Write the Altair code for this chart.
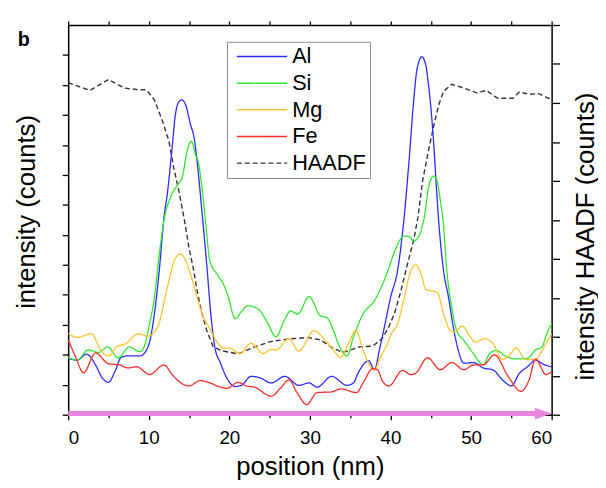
import altair as alt
import pandas as pd

FONT = "Liberation Sans"

# ---------------- data (x in nm, y in axis units) ----------------
al_x = [0, 1.1, 2.3, 3.4, 4.2, 5.0, 5.8, 6.6, 7.4, 8.9, 9.9, 10.7, 11.3, 11.9, 12.3, 12.9, 13.3, 13.8, 14.1,
        14.6, 15.2, 15.6, 16.0, 16.4, 16.8, 17.2, 17.7, 18.2, 18.9, 19.7, 20.7, 21.5, 22.7, 23.9, 25.2, 26.9,
        28.6, 29.9, 30.9, 32.7, 34.6, 35.4, 36.0, 37.3, 38.0, 38.7, 39.3, 40.0, 40.9, 41.7, 42.3, 42.9, 43.3,
        43.9, 44.4, 44.7, 45.1, 45.4, 45.7, 46.0, 46.6, 47.2, 47.8, 48.4, 49.1, 50.3, 51.5, 52.7, 53.9, 55.0,
        56.0, 57.0, 58.0, 59.0, 60.0]
al_y = [0.94, 0.91, 1.01, 0.83, 0.62, 0.54, 0.72, 0.96, 0.98, 0.98, 1.13, 1.68, 2.40, 3.30, 3.68, 4.45, 5.00, 5.23, 5.25,
        5.16, 4.83, 4.64, 4.23, 3.68, 3.10, 2.50, 1.68, 1.13, 0.86, 0.61, 0.47, 0.49, 0.64, 0.61, 0.53, 0.64,
        0.49, 0.53, 0.46, 0.64, 0.49, 0.53, 0.70, 0.90, 0.75, 1.13, 1.50, 1.95, 2.42, 3.30, 4.23, 5.27, 5.77,
        5.97, 5.82, 5.52, 4.99, 4.45, 3.79, 3.20, 2.39, 1.96, 1.46, 1.08, 0.86, 0.87, 0.78, 0.75, 0.58, 0.48,
        0.69, 0.80, 0.91, 0.84, 0.80]

si_x = [0, 1.1, 2.5, 3.8, 4.9, 6.2, 7.6, 8.9, 9.5, 10.1, 10.7, 11.3, 11.9, 12.7, 13.6, 14.2, 14.6, 15.0, 15.3,
        15.8, 16.2, 16.6, 17.0, 17.6, 18.5, 19.3, 19.9, 20.7, 21.5, 22.3, 23.6, 24.6, 25.8, 26.8, 27.6, 28.5,
        29.9, 31.3, 32.1, 32.9, 33.7, 34.6, 35.4, 36.6, 38.0, 39.0, 39.8, 40.5, 41.7, 42.3, 42.9, 43.6, 44.2,
        44.8, 45.4, 45.8, 46.2, 46.5, 47.0, 47.6, 48.2, 49.1, 50.3, 51.5, 52.3, 53.1, 54.4, 55.6, 57.0, 58.0,
        58.8, 59.4, 60.0]
si_y = [0.96, 0.91, 1.08, 1.04, 1.13, 0.95, 1.13, 1.05, 1.16, 1.52, 1.95, 2.67, 3.25, 3.63, 3.84, 3.98, 4.29, 4.51, 4.56,
        4.34, 4.18, 3.79, 3.28, 2.56, 2.34, 2.17, 1.95, 1.60, 1.72, 1.82, 1.76, 1.57, 1.30, 1.57, 1.73, 1.68,
        1.97, 1.65, 1.62, 1.41, 1.13, 0.98, 1.30, 1.68, 1.90, 2.17, 2.45, 2.72, 2.98, 2.97, 2.90, 3.00, 3.30,
        3.84, 3.98, 3.89, 3.56, 3.28, 2.39, 1.79, 1.41, 1.24, 1.02, 0.83, 1.02, 1.07, 0.97, 0.93, 0.94, 1.08,
        1.13, 1.35, 1.52]

mg_x = [0, 1.1, 2.9, 4.0, 5.0, 6.0, 7.2, 8.7, 9.9, 11.1, 12.3, 13.3, 14.0, 14.6, 15.2, 16.0, 16.8, 17.6, 18.5,
        19.3, 20.0, 21.3, 22.7, 24.2, 25.2, 25.8, 27.4, 28.6, 30.5, 31.7, 32.9, 33.8, 34.8, 35.7, 36.6, 37.4,
        38.0, 38.8, 39.5, 40.1, 40.9, 41.7, 42.5, 43.1, 43.8, 44.4, 45.8, 46.6, 47.4, 48.0, 48.9, 49.9, 50.5,
        51.7, 52.7, 53.9, 54.6, 55.6, 56.8, 58.0, 58.6, 59.4, 60.0]
mg_y = [1.36, 1.29, 1.35, 1.08, 0.98, 1.13, 1.19, 1.35, 1.31, 1.46, 2.12, 2.61, 2.68, 2.56, 2.34, 1.95, 1.62, 1.43, 1.21,
        1.11, 1.11, 1.02, 1.19, 1.02, 1.09, 1.08, 1.27, 1.06, 1.40, 1.27, 1.08, 0.96, 1.19, 1.41, 1.08, 0.83,
        0.75, 0.97, 1.15, 1.35, 1.52, 1.95, 2.39, 2.50, 2.34, 2.09, 2.04, 1.68, 1.41, 1.38, 1.48, 1.30, 1.21,
        1.27, 1.19, 0.92, 0.97, 1.11, 0.92, 0.92, 1.02, 1.21, 1.35]

fe_x = [0, 0.9, 1.9, 3.4, 5.0, 6.4, 7.4, 8.5, 10.1, 11.9, 12.9, 14.0, 15.0, 16.4, 17.4, 18.5, 19.7, 21.1, 22.1,
        23.1, 25.2, 26.4, 27.4, 28.4, 29.6, 30.9, 32.7, 33.8, 35.8, 36.6, 37.8, 38.4, 39.0, 39.8, 41.5, 42.5,
        43.1, 44.6, 46.2, 47.6, 49.1, 50.3, 51.5, 52.9, 54.6, 56.2, 57.2, 58.0, 59.3, 60.0]
fe_y = [1.25, 0.97, 0.70, 1.03, 0.85, 0.83, 0.78, 0.80, 0.67, 0.83, 0.67, 0.53, 0.48, 0.57, 0.54, 0.48, 0.44, 0.54, 0.48,
        0.46, 0.31, 0.45, 0.58, 0.37, 0.17, 0.37, 0.38, 0.43, 0.37, 0.53, 0.77, 0.75, 0.56, 0.48, 0.74, 0.67,
        0.69, 0.95, 0.75, 0.87, 0.75, 0.83, 0.83, 1.00, 0.64, 0.39, 0.58, 0.93, 0.67, 0.72]

haadf_x = [0, 2.7, 5.0, 7.0, 8.7, 9.7, 10.7, 11.7, 12.5, 13.1, 13.8, 14.4, 15.0, 15.6, 16.0, 16.6, 17.2, 18.0,
           19.1, 21.1, 23.1, 25.2, 27.2, 29.7, 31.3, 32.9, 34.1, 36.2, 37.8, 39.0, 39.8, 40.5, 41.3, 42.1, 42.9,
           43.4, 44.0, 44.8, 45.4, 46.0, 46.6, 47.6, 49.1, 50.7, 51.9, 53.3, 55.2, 56.0, 57.2, 58.4, 59.6, 60.0]
haadf_y = [4.26, 4.16, 4.30, 4.19, 4.17, 4.17, 4.04, 3.77, 3.51, 3.17, 2.84, 2.51, 2.14, 1.84, 1.59, 1.30, 1.08, 0.87,
           0.82, 0.78, 0.87, 0.94, 0.97, 0.99, 0.96, 0.85, 0.80, 0.87, 0.88, 0.98, 1.13, 1.30, 1.59, 1.93, 2.25,
           2.53, 3.01, 3.43, 3.72, 3.98, 4.15, 4.24, 4.19, 4.13, 4.16, 4.06, 4.06, 4.14, 4.11, 4.12, 4.06, 4.07]

series_names = ["Al", "Si", "Mg", "Fe", "HAADF"]
series_colors = ["#2b2bff", "#2ee82e", "#ffc22b", "#ff2b2b", "#333333"]
series_dash = [[1, 0], [1, 0], [1, 0], [1, 0], [5, 3]]

left_ticks = [i * 0.5 for i in range(13)]
right_ticks = [i * 0.5 for i in range(11)]
x_ticks = list(range(0, 61, 5))
arrow_x = [0]
arrow_x2 = [60]
arrow_y = [0.02]

# ---------------- tables ----------------
rows = []
for name, xs, ys in [("Al", al_x, al_y), ("Si", si_x, si_y), ("Mg", mg_x, mg_y), ("Fe", fe_x, fe_y)]:
    for xv, yv in zip(xs, ys):
        rows.append({"series": name, "x": xv, "y": yv})
elem_df = pd.DataFrame(rows)
haadf_df = pd.DataFrame({"series": "HAADF", "x": haadf_x, "y": haadf_y})
arrow_df = pd.DataFrame({"x": arrow_x, "x2": arrow_x2, "y": arrow_y})

x_scale = alt.Scale(domain=[0, 60], nice=False, zero=False)
left_scale = alt.Scale(domain=[0, 6.5], nice=False, zero=False)
right_scale = alt.Scale(domain=[0, 5], nice=False, zero=False)

legend = alt.Legend(
    title=None, orient="none", legendX=161, legendY=17,
    symbolType="M -1 0 L 9.2 0", symbolSize=100, symbolStrokeWidth=1.5,
    labelFont=FONT, labelFontSize=22, labelColor="black", labelOffset=40,
    padding=4, rowPadding=5, strokeColor="#8a8a8a", fillColor="white",
)
color = alt.Color("series:N", scale=alt.Scale(domain=series_names, range=series_colors), legend=legend)
dash = alt.StrokeDash("series:N", scale=alt.Scale(domain=series_names, range=series_dash), legend=legend)

elem_lines = alt.Chart(elem_df).mark_line(strokeWidth=1.3, interpolate="monotone").encode(
    x=alt.X("x:Q", scale=x_scale, axis=alt.Axis(
        orient="bottom", values=x_ticks,
        tickSize={"condition": {"test": "datum.value % 10 === 0", "value": 5}, "value": 3},
        labelExpr="datum.value % 10 === 0 ? datum.label : ''",
        labelFontSize=19, labelPadding=9, title="position (nm)", titleFontSize=26,
        titleY=61, titleBaseline="alphabetic")),
    y=alt.Y("y:Q", scale=left_scale, axis=alt.Axis(
        orient="left", values=left_ticks, tickSize=6, labels=False,
        title="intensity (counts)", titleFontSize=26, titleAngle=270,
        titleX=-42, titleY=189, titleBaseline="middle", titleAlign="center")),
    color=color,
    strokeDash=dash,
)

haadf_line = alt.Chart(haadf_df).mark_line(strokeWidth=1.4).encode(
    x=alt.X("x:Q", scale=x_scale, axis=alt.Axis(
        orient="top", values=x_ticks, tickSize=4, labels=False, title=None)),
    y=alt.Y("y:Q", scale=right_scale, axis=alt.Axis(
        orient="right", values=right_ticks, tickSize=8, labels=False,
        title="intensity HAADF (counts)", titleFontSize=26, titleAngle=270,
        titleX=34, titleY=214, titleBaseline="middle", titleAlign="center")),
    color=color,
    strokeDash=dash,
)

arrow_body = alt.Chart(arrow_df).mark_rule(color="#e985dc", strokeWidth=5, x2Offset=-10).encode(
    x=alt.X("x:Q", scale=x_scale, axis=None),
    x2="x2:Q",
    y=alt.Y("y:Q", scale=left_scale, axis=None),
)
arrow_head = alt.Chart(arrow_df).mark_point(
    shape="M -1 -0.7 L 1 0 L -1 0.7 Z", size=289, filled=True, opacity=1,
    color="#e985dc", xOffset=-8.5).encode(
    x=alt.X("x2:Q", scale=x_scale, axis=None),
    y=alt.Y("y:Q", scale=left_scale, axis=None),
)
panel_label = alt.Chart(arrow_df).mark_text(
    text="b", font=FONT, fontSize=20, fontWeight="bold", align="center", baseline="alphabetic", color="black"
).encode(x=alt.value(-45), y=alt.value(21))

chart = alt.layer(haadf_line, elem_lines, arrow_body, arrow_head, panel_label).resolve_scale(
    y="independent"
).resolve_axis(
    x="independent", y="independent"
).properties(
    width=490, height=395,
    autosize=alt.AutoSizeParams(type="none"),
    padding={"left": 61, "top": 14, "right": 47, "bottom": 68},
).configure_view(stroke=None).configure_axis(
    domainColor="black", domainWidth=1.5, tickColor="black", tickWidth=1.3,
    labelFont=FONT, labelColor="black", titleFont=FONT, titleColor="black",
    titleFontWeight="normal", grid=False,
)

chart.save("out.html", embed_options={"renderer": "svg", "actions": False})
